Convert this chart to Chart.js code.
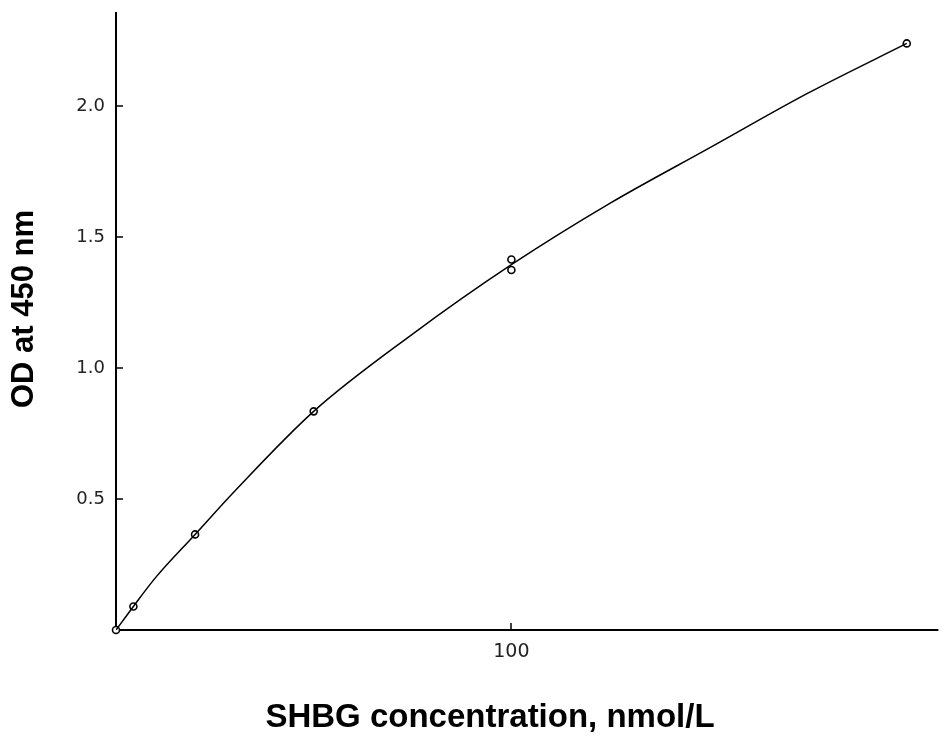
<!DOCTYPE html>
<html>
<head>
<meta charset="utf-8">
<script src="https://cdn.jsdelivr.net/npm/chart.js@4/dist/chart.umd.min.js"></script>
<style>
html,body{margin:0;padding:0;background:#fff;}
#wrap{width:944px;height:736px;}
</style>
</head>
<body>
<div id="wrap"><canvas id="c" width="944" height="736"></canvas></div>
<script>
// measured standards
const concX = [0, 4.4, 20, 50, 100, 100, 200];
const odY   = [0, 0.09, 0.365, 0.835, 1.415, 1.375, 2.24];
// fitted curve
const curveX = [0, 4.4, 10, 20, 30, 50, 75, 100, 125, 150, 175, 200];
const curveY = [0, 0.09, 0.2, 0.365, 0.53, 0.835, 1.13, 1.395, 1.63, 1.84, 2.05, 2.24];
const xTicks = [100];
const yTicks = [0.5, 1.0, 1.5, 2.0];
const xTitle = 'SHBG concentration, nmol/L';
const yTitle = 'OD at 450 nm';

const axesPlugin = {
  id: 'axesPlugin',
  beforeDatasetsDraw(chart) {
    const ctx = chart.ctx, xs = chart.scales.x, ys = chart.scales.y;
    const a = chart.chartArea;
    ctx.save();
    ctx.strokeStyle = '#000';
    ctx.lineWidth = 2;
    ctx.beginPath();
    ctx.moveTo(a.left, a.top); ctx.lineTo(a.left, a.bottom); ctx.lineTo(a.right, a.bottom);
    ctx.stroke();
    ctx.lineWidth = 1.5;
    yTicks.forEach(v => { const p = Math.round(ys.getPixelForValue(v)); ctx.beginPath(); ctx.moveTo(a.left, p); ctx.lineTo(a.left + 7, p); ctx.stroke(); });
    xTicks.forEach(v => { const p = Math.round(xs.getPixelForValue(v)); ctx.beginPath(); ctx.moveTo(p, a.bottom); ctx.lineTo(p, a.bottom - 7); ctx.stroke(); });
    ctx.restore();
  },
  afterDraw(chart) {
    const ctx = chart.ctx;
    ctx.save();
    ctx.fillStyle = '#000';
    ctx.textAlign = 'center';
    ctx.textBaseline = 'middle';
    ctx.font = 'bold 31px "Liberation Sans", Arial, sans-serif';
    ctx.translate(24, 309);
    ctx.rotate(-Math.PI / 2);
    ctx.fillText(yTitle, 0, 0);
    ctx.restore();
    ctx.save();
    ctx.fillStyle = '#000';
    ctx.textAlign = 'center';
    ctx.textBaseline = 'middle';
    ctx.font = 'bold 33px "Liberation Sans", Arial, sans-serif';
    ctx.fillText(xTitle, 490, 718);
    ctx.restore();
  }
};

new Chart(document.getElementById('c'), {
  type: 'scatter',
  data: {
    datasets: [
      {
        data: curveX.map((x, i) => ({x, y: curveY[i]})),
        showLine: true, borderColor: '#000', borderWidth: 1.5,
        pointRadius: 0, cubicInterpolationMode: 'monotone', fill: false
      },
      {
        data: concX.map((x, i) => ({x, y: odY[i]})),
        showLine: false, pointRadius: 3.5, pointBorderWidth: 1.6,
        pointBorderColor: '#000', pointBackgroundColor: '#fff', clip: false
      }
    ]
  },
  options: {
    responsive: false, animation: false,
    layout: { padding: { top: 12, right: 2, left: 0, bottom: 0 } },
    plugins: { legend: { display: false }, tooltip: { enabled: false } },
    scales: {
      x: {
        type: 'linear', min: 0, max: 208,
        afterBuildTicks: s => { s.ticks = xTicks.map(v => ({value: v})); },
        afterFit: s => { s.height = 106; },
        grid: { display: false, drawTicks: false },
        border: { display: false },
        ticks: { color: '#222', font: { family: 'DejaVu Sans', size: 19 }, padding: 11, callback: v => String(v) },
        title: { display: false }
      },
      y: {
        type: 'linear', min: 0, max: 2.36,
        afterBuildTicks: s => { s.ticks = yTicks.map(v => ({value: v})); },
        afterFit: s => { s.width = 116; s.paddingTop = 0; s.paddingBottom = 0; },
        grid: { display: false, drawTicks: false },
        border: { display: false },
        ticks: { color: '#222', font: { family: 'DejaVu Sans', size: 18 }, padding: 11, callback: v => v.toFixed(1) },
        title: { display: false }
      }
    }
  },
  plugins: [axesPlugin]
});
</script>
</body>
</html>
